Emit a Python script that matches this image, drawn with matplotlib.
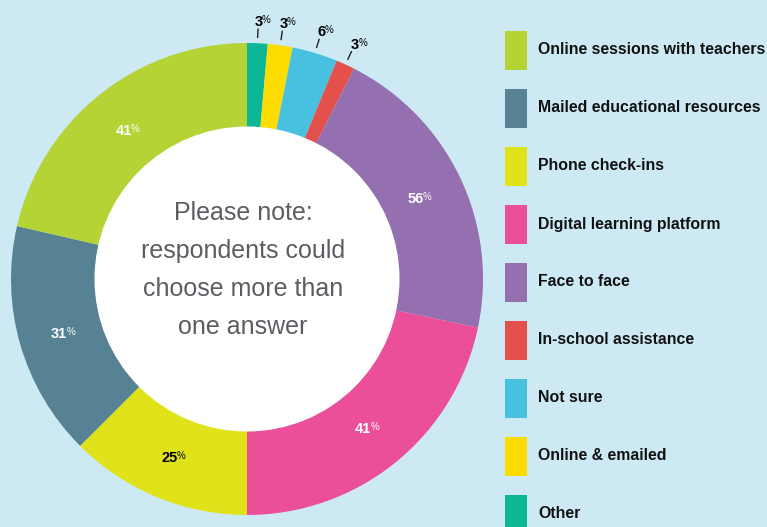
import matplotlib
matplotlib.use("Agg")
import numpy as np
import matplotlib.pyplot as plt
from matplotlib.patches import Rectangle, Circle

plt.rcParams['font.family'] = ['Liberation Sans', 'DejaVu Sans']

# pie order, clockwise from the top
categories = ['Other', 'Online & emailed', 'Not sure', 'In-school assistance',
              'Face to face', 'Digital learning platform', 'Phone check-ins',
              'Mailed educational resources', 'Online sessions with teachers']
values = [3, 3, 6, 3, 56, 41, 25, 31, 41]          # printed labels (%)
shares = [1.4, 1.7, 3.1, 1.3, 20.8, 21.7, 12.5, 16.1, 21.4]  # slice sizes as drawn
colors = ['#0db795', '#fddc00', '#48c0df', '#e4504b', '#9470b1',
          '#ec4f9a', '#e0e31a', '#568293', '#b5d334']
label_color = ['black', 'black', 'black', 'black', 'white',
               'white', 'black', 'white', 'white']
outside = [True, True, True, True, False, False, False, False, False]

bg = '#cdeaf4'
W, H = 767, 527
fig = plt.figure(figsize=(W / 100, H / 100), dpi=100, facecolor=bg)
ax = fig.add_axes([0, 0, 1, 1])
ax.set_facecolor(bg)

cx, cy, R, r_in = 247, H - 279, 236, 152
wedges, _ = ax.pie(shares, colors=colors, startangle=90, counterclock=False,
                   center=(cx, cy), radius=R,
                   wedgeprops=dict(width=R - r_in, linewidth=0))
ax.add_patch(Circle((cx, cy), r_in + 0.5, facecolor='white', edgecolor='none'))
ax.set_xlim(0, W)
ax.set_ylim(0, H)
ax.set_aspect('equal')
ax.axis('off')

# percentage labels
for w, v, col, out in zip(wedges, values, label_color, outside):
    ang = np.deg2rad((w.theta1 + w.theta2) / 2)
    if out:
        r_txt = R * 1.10
        x0, y0 = cx + R * 1.025 * np.cos(ang), cy + R * 1.025 * np.sin(ang)
        x1, y1 = cx + R * 1.06 * np.cos(ang), cy + R * 1.06 * np.sin(ang)
        ax.plot([x0, x1], [y0, y1], color='#222222', lw=1)
    else:
        r_txt = R * 0.81
    tx, ty = cx + r_txt * np.cos(ang), cy + r_txt * np.sin(ang)
    ax.text(tx + 4, ty + 5, str(v), ha='right', va='top', color=col,
            fontsize=10.5, fontweight='bold')
    ax.text(tx + 3, ty + 5, '%', ha='left', va='top', color=col,
            fontsize=7)

ax.text(cx - 4, H - 270, 'Please note:\nrespondents could\nchoose more than\none answer',
        ha='center', va='center', color='#5c5d63', fontsize=18,
        linespacing=1.72)

# legend, reverse of pie order
for i, (name, col) in enumerate(zip(categories[::-1], colors[::-1])):
    yc = H - (50 + 58 * i)
    ax.add_patch(Rectangle((505, yc - 19.5), 22, 39, facecolor=col, edgecolor='none'))
    ax.text(538, yc, name, ha='left', va='center', fontsize=11.4,
            fontweight='bold', color='#111111')

fig.savefig('out.png', dpi=100, facecolor=bg)
